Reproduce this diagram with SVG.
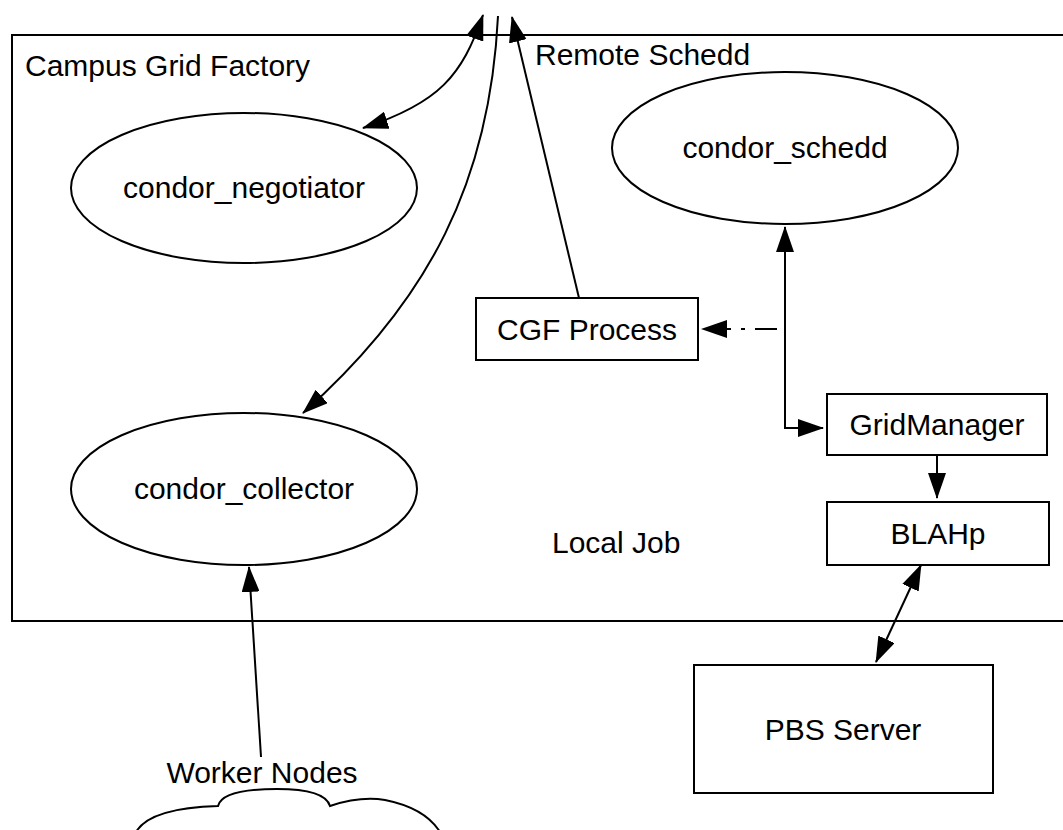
<svg xmlns="http://www.w3.org/2000/svg" width="1063" height="830" viewBox="0 0 1063 830">
<style>
.shape{fill:#fff;stroke:#000;stroke-width:2}
.frame{fill:none;stroke:#000;stroke-width:2}
.conn{fill:none;stroke:#000;stroke-width:2}
text{font-family:"Liberation Sans",Arial,Helvetica,sans-serif;font-size:30px;fill:#000}
.c{text-anchor:middle}
</style>
<defs>
<marker id="ah" viewBox="0 0 26 18" markerUnits="userSpaceOnUse" markerWidth="26" markerHeight="18" refX="25" refY="9" orient="auto-start-reverse">
<path d="M0,0 L26,9 L0,18 z" fill="#000"/>
</marker>
</defs>
<rect class="frame" x="12" y="35" width="1100" height="586"/>
<text x="25" y="76">Campus Grid Factory</text>
<text x="535" y="65">Remote Schedd</text>
<text x="552" y="553">Local Job</text>
<g id="negotiator"><ellipse class="shape" cx="244" cy="188" rx="173" ry="75"/><text class="c" x="244" y="198">condor_negotiator</text></g>
<g id="schedd"><ellipse class="shape" cx="785" cy="148" rx="173" ry="76"/><text class="c" x="785" y="158">condor_schedd</text></g>
<g id="collector"><ellipse class="shape" cx="244" cy="489" rx="173" ry="76"/><text class="c" x="244" y="499">condor_collector</text></g>
<g id="cgf"><rect class="shape" x="476" y="298" width="222" height="62"/><text class="c" x="587" y="340">CGF Process</text></g>
<g id="gridmanager"><rect class="shape" x="827" y="394" width="220" height="61"/><text class="c" x="937" y="435">GridManager</text></g>
<g id="blahp"><rect class="shape" x="827" y="502" width="222" height="63"/><text class="c" x="938" y="544">BLAHp</text></g>
<g id="pbs"><rect class="shape" x="694" y="665" width="299" height="128"/><text class="c" x="843" y="740">PBS Server</text></g>
<g id="workers"><path class="frame" d="M136,832 Q150,808 218,806 Q222,789 277,789 Q325,789 330,806 Q360,796 385,800 Q425,808 440,832"/><text class="c" x="262" y="783">Worker Nodes</text></g>
<g id="connectors">
<path class="conn" d="M483,15 C462,75 440,103 363,128" marker-start="url(#ah)" marker-end="url(#ah)"/>
<path class="conn" d="M498,16 C490,180 430,300 303,413" marker-end="url(#ah)"/>
<path class="conn" d="M579,298 L512,17" marker-end="url(#ah)"/>
<path class="conn" d="M785,227 L785,428 L823,428" marker-start="url(#ah)" marker-end="url(#ah)"/>
<path class="conn" d="M777,329 L702,329" stroke-dasharray="22 10 4 10" marker-end="url(#ah)"/>
<path class="conn" d="M937,455 L937,498" marker-end="url(#ah)"/>
<path class="conn" d="M921,565 L876,662" marker-start="url(#ah)" marker-end="url(#ah)"/>
<path class="conn" d="M261,757 L249,567" marker-end="url(#ah)"/>
</g>
</svg>
